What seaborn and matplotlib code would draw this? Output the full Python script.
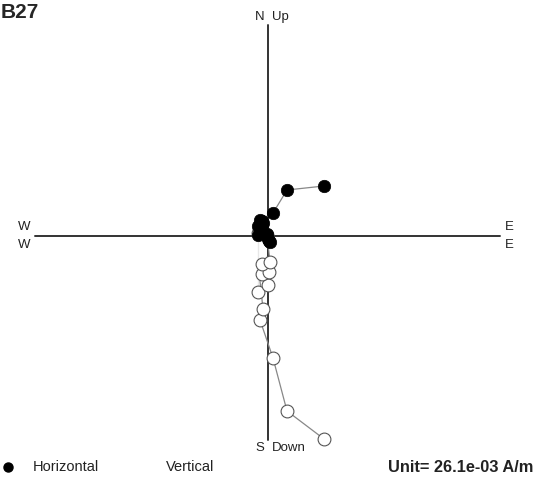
import matplotlib
matplotlib.use("Agg")
import matplotlib.pyplot as plt
import seaborn as sns
import pandas as pd
from matplotlib.lines import Line2D

sns.set_style("white")
plt.rcParams['font.family'] = ['Liberation Sans', 'DejaVu Sans']

# Zijderveld data (plot units)
east  = [5.6, 1.9, 0.5, -0.8, -0.5, -1.0, 0.0, -0.6, 0.1, -0.6, 0.2, -1.0, -0.1]
north = [5.0, 4.6, 2.3, 1.6, 1.3, 1.0, -0.3, 1.5, -0.5, 1.2, -0.6, 0.1, 0.2]
up    = [-20.3, -17.5, -12.2, -8.4, -7.3, -5.6, -4.9, -3.8, -3.6, -2.8, -2.6, 0.3, 0.1]
title = "B27"
unit_text = "Unit= 26.1e-03 A/m"

df = pd.DataFrame({"E": east, "N": north, "Up": up, "step": range(len(east))})

fig = plt.figure(figsize=(5.5, 4.9), dpi=100)
ax = fig.add_axes([0, 0, 1, 1])
ax.set_xlim(-26.8, 28.2)
ax.set_ylim(-25.4, 23.6)
ax.set_axis_off()

# axes cross
ax.plot([-23.3, 23.2], [0, 0], color="#333333", lw=1.4, zorder=1)
ax.plot([0, 0], [-20.4, 21.1], color="#333333", lw=1.4, zorder=1)

# vertical projection (open)
sns.lineplot(data=df, x="E", y="Up", sort=False, color="#888888", lw=0.9, ax=ax, zorder=2)
sns.scatterplot(data=df, x="E", y="Up", s=85, facecolor="white", edgecolor="#555555",
                linewidth=0.8, ax=ax, zorder=3)
# horizontal projection (filled)
sns.lineplot(data=df, x="E", y="N", sort=False, color="#888888", lw=0.9, ax=ax, zorder=4)
sns.scatterplot(data=df, x="E", y="N", s=80, color="black", edgecolor="black",
                linewidth=0.5, ax=ax, zorder=5)
ax.set_axis_off()

fs = 9.5
ax.text(-0.4, 21.3, "N", ha="right", va="bottom", fontsize=fs, color="#222222")
ax.text(0.4, 21.3, "Up", ha="left", va="bottom", fontsize=fs, color="#222222")
ax.text(-0.4, -20.6, "S", ha="right", va="top", fontsize=fs, color="#222222")
ax.text(0.4, -20.6, "Down", ha="left", va="top", fontsize=fs, color="#222222")
ax.text(-24.4, 0.3, "W", ha="center", va="bottom", fontsize=fs, color="#222222")
ax.text(-24.4, -0.3, "W", ha="center", va="top", fontsize=fs, color="#222222")
ax.text(24.1, 0.3, "E", ha="center", va="bottom", fontsize=fs, color="#222222")
ax.text(24.1, -0.3, "E", ha="center", va="top", fontsize=fs, color="#222222")

fig.text(0.002, 0.975, title, ha="left", va="center", fontsize=15, fontweight="bold")

# legend row
yl = 1 - 467 / 490
fig.add_artist(Line2D([8 / 550], [yl], marker="o", markersize=6.5,
                      color="black", transform=fig.transFigure))
fig.text(33 / 550, yl, "Horizontal", ha="left", va="center", fontsize=10.5, color="#222222")
fig.text(166 / 550, yl, "Vertical", ha="left", va="center", fontsize=10.5, color="#222222")
fig.text(388 / 550, yl, unit_text, ha="left", va="center", fontsize=11.8,
         fontweight="bold", color="#222222")

fig.savefig("out.png", dpi=100)
